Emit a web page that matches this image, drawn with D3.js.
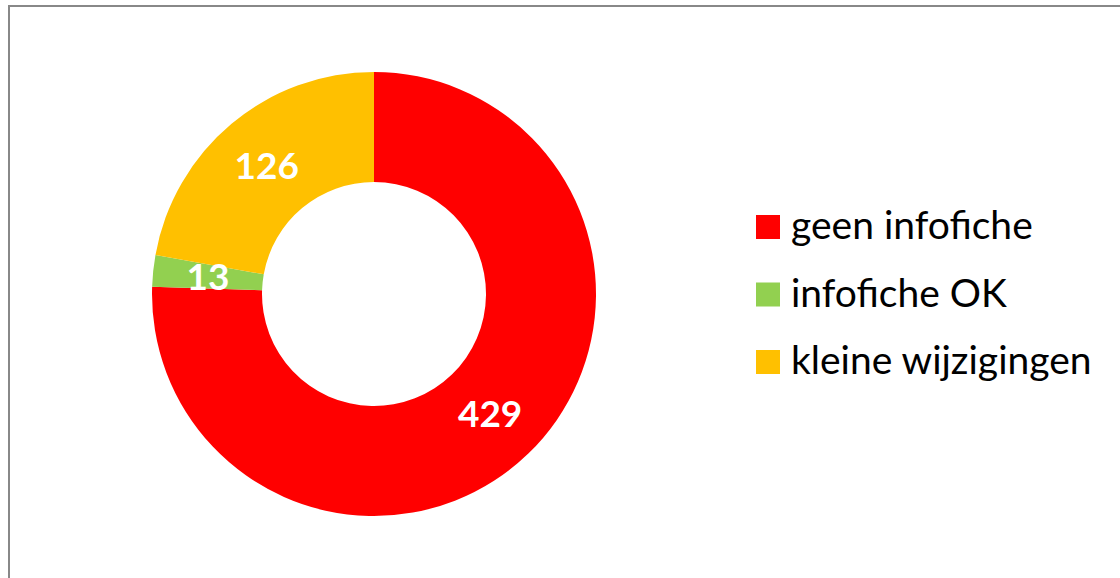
<!DOCTYPE html>
<html><head><meta charset="utf-8">
<script src="https://cdn.jsdelivr.net/npm/d3@7"></script>
<style>body{margin:0;background:#fff}svg{display:block}</style>
</head><body>
<svg id="c" width="1120" height="578"></svg>
<script>
const categories = ["geen infofiche", "infofiche OK", "kleine wijzigingen"];
const values = [429, 13, 126];
const colors = ["#FF0000", "#92D050", "#FFC000"];

const svg = d3.select("#c");
svg.append("rect").attr("x", 9).attr("y", 6).attr("width", 1120).attr("height", 600)
  .attr("fill", "#fff").attr("stroke", "#888").attr("stroke-width", 2);

const cx = 374, cy = 294, R = 222, r = 112;
const data = categories.map((c, i) => ({name: c, value: values[i], color: colors[i]}));
const pie = d3.pie().value(d => d.value).sort(null);
const arc = d3.arc().innerRadius(r).outerRadius(R);
const g = svg.append("g").attr("transform", `translate(${cx},${cy})`);
const arcs = pie(data);
g.selectAll("path").data(arcs).join("path").attr("d", arc).attr("fill", d => d.data.color);
g.selectAll("text").data(arcs).join("text")
  .attr("transform", d => `translate(${arc.centroid(d)})`)
  .attr("text-anchor", "middle").attr("dy", "0.36em")
  .attr("font-family", "Lato, 'Open Sans', sans-serif").attr("font-weight", "bold")
  .attr("font-size", 37).attr("fill", "#fff")
  .text(d => d.data.value);

const lg = svg.append("g");
const yBase = d3.scalePoint().domain(categories).range([239, 374]);
categories.forEach((c, i) => {
  lg.append("rect").attr("x", 756).attr("y", yBase(c) - 24).attr("width", 24).attr("height", 24).attr("fill", colors[i]);
  lg.append("text").attr("x", 791).attr("y", yBase(c))
    .attr("font-family", "Lato, 'Open Sans', sans-serif").attr("font-size", 39).attr("fill", "#000")
    .text(c);
});
</script>
</body></html>
